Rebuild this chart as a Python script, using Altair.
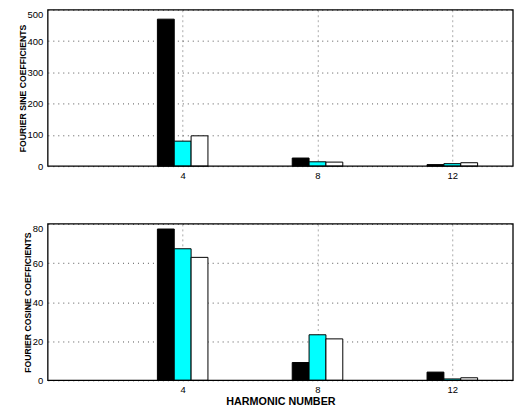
import altair as alt
import pandas as pd

harmonics = [4, 8, 12]
series = ["A", "B", "C"]
sine_vals = {
    "A": [470, 26, 5],
    "B": [80, 14, 8],
    "C": [97, 13, 11],
}
cosine_vals = {
    "A": [77.4, 9.1, 4.2],
    "B": [67.3, 23.3, 0.7],
    "C": [62.9, 21.2, 1.3],
}
colors = ["#000000", "#00FFFF", "#FFFFFF"]
x_ticks = [4, 8, 12]
x_domain = [0, 13.8]
sine_ticks = [0, 100, 200, 300, 400, 500]
cos_ticks = [0, 20, 40, 60, 80]
bar_w = 0.5

FONT = "Liberation Sans"
W, H = 467, 157


def make_df(vals):
    rows = []
    for i, s in enumerate(series):
        for h, v in zip(harmonics, vals[s]):
            x0 = h - 1.5 * bar_w + i * bar_w
            rows.append({"series": s, "h": h, "x0": x0, "x1": x0 + bar_w, "v": v})
    return pd.DataFrame(rows)


def panel(vals, ymax, yticks, ytitle, xtitle):
    df = make_df(vals)
    xs = alt.Scale(domain=x_domain, nice=False)
    ys = alt.Scale(domain=[0, ymax], nice=False)
    xaxis = alt.Axis(values=x_ticks, grid=True, gridColor="#aaaaaa", gridDash=[2, 3],
                     ticks=False, labelPadding=4, domain=False,
                     labelFontSize=9.5, labelColor="#000", labelFont=FONT,
                     title=xtitle if xtitle else None,
                     titleFontSize=10.8, titleFont=FONT, titleFontWeight="bold",
                     titlePadding=2, titleColor="#000")
    yaxis = alt.Axis(values=yticks, grid=True, gridColor="#555555", gridDash=[1, 4],
                     ticks=False, labelPadding=5, domain=False, labelOverlap=False,
                     labelBaseline={"condition": {"test": f"datum.value >= {ymax}", "value": "top"},
                                    "value": "middle"},
                     labelFontSize=9.5, labelColor="#000", labelFont=FONT,
                     title=ytitle, titleFontSize=8.7, titleFont=FONT,
                     titleFontWeight="bold", titlePadding=0, titleColor="#000")
    frame_df = pd.DataFrame({"x0": [x_domain[0]], "x1": [x_domain[1]], "y0": [0], "y1": [ymax]})
    frame = alt.Chart(frame_df).mark_rect(fill="transparent", stroke="#000000", strokeWidth=1.3).encode(
        x=alt.X("x0:Q", scale=xs, axis=xaxis),
        x2="x1:Q",
        y=alt.Y("y0:Q", scale=ys, axis=yaxis),
        y2="y1:Q",
    )
    bars = alt.Chart(df).mark_rect(stroke="#000", strokeWidth=1).encode(
        x=alt.X("x0:Q", scale=xs, axis=xaxis),
        x2="x1:Q",
        y=alt.Y("v:Q", scale=ys, axis=yaxis),
        y2=alt.datum(0),
        color=alt.Color("series:N", scale=alt.Scale(domain=series, range=colors), legend=None),
    )
    return alt.layer(bars, frame).properties(width=W, height=H)


top = panel(sine_vals, 500, sine_ticks, "FOURIER SINE COEFFICIENTS", None)
bottom = panel(cosine_vals, 80, cos_ticks, "FOURIER COSINE COEFFICIENTS", "HARMONIC NUMBER")

chart = alt.vconcat(top, bottom, spacing=58, bounds="flush").properties(
    padding={"left": 10, "top": 0, "right": 0, "bottom": 0},
    background="white",
).configure_view(stroke=None)

chart.save("out.html", embed_options={"renderer": "svg", "actions": False})
